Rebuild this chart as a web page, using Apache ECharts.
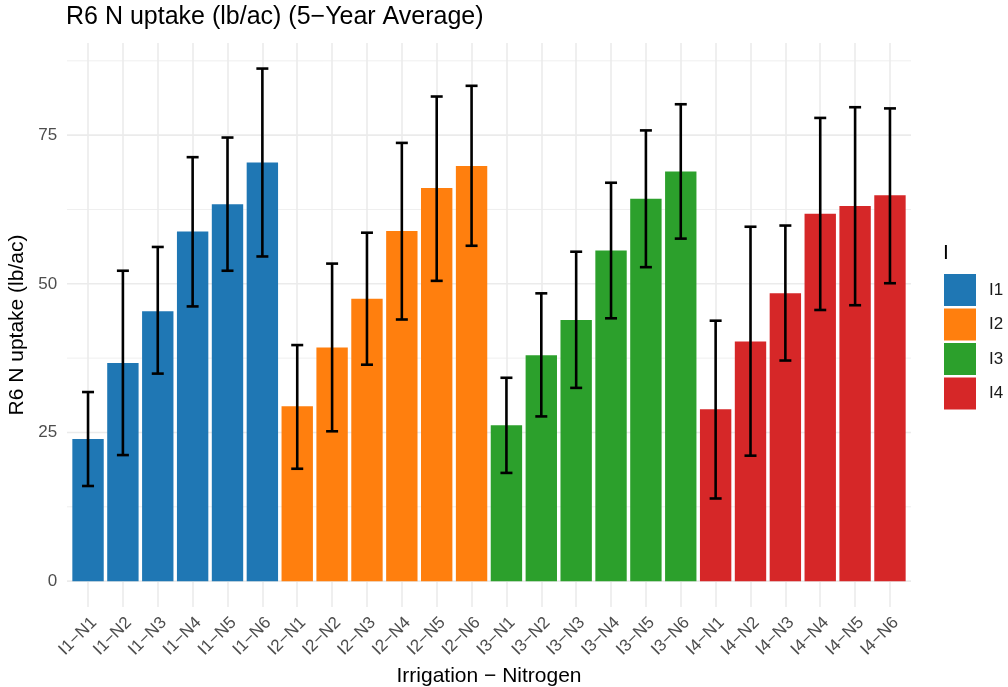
<!DOCTYPE html>
<html>
<head>
<meta charset="utf-8">
<script src="https://cdn.jsdelivr.net/npm/echarts@6/dist/echarts.min.js"></script>
<style>html,body{margin:0;padding:0;background:#fff}#c{width:1008px;height:687px}</style>
</head>
<body>
<div id="c"></div>
<script>
const categories = ['I1−N1','I1−N2','I1−N3','I1−N4','I1−N5','I1−N6',
  'I2−N1','I2−N2','I2−N3','I2−N4','I2−N5','I2−N6',
  'I3−N1','I3−N2','I3−N3','I3−N4','I3−N5','I3−N6',
  'I4−N1','I4−N2','I4−N3','I4−N4','I4−N5','I4−N6'];
const groups = ['I1','I2','I3','I4'];
const groupColors = ['#1F77B4','#FF7F0E','#2CA02C','#D62728'];
const meanI1 = [23.9, 36.7, 45.4, 58.8, 63.4, 70.4];
const meanI2 = [29.4, 39.3, 47.5, 58.9, 66.1, 69.8];
const meanI3 = [26.2, 38.0, 43.9, 55.6, 64.3, 68.9];
const meanI4 = [28.9, 40.3, 48.4, 61.8, 63.1, 64.9];
const lowerAll = [16.0, 21.2, 34.9, 46.2, 52.2, 54.6,
  18.9, 25.2, 36.4, 44.0, 50.5, 56.4,
  18.2, 27.7, 32.5, 44.2, 52.8, 57.6,
  13.9, 21.1, 37.1, 45.6, 46.4, 50.1];
const upperAll = [31.8, 52.2, 56.2, 71.3, 74.6, 86.2,
  39.7, 53.4, 58.6, 73.7, 81.5, 83.3,
  34.2, 48.4, 55.4, 67.0, 75.8, 80.2,
  43.8, 59.6, 59.8, 77.9, 79.7, 79.5];
const yTickValues = [0, 25, 50, 75];
const yMinorValues = [12.5, 37.5, 62.5, 87.5];

const means = [meanI1, meanI2, meanI3, meanI4];
const chart = echarts.init(document.getElementById('c'));
const FONT = '"Liberation Sans", Arial, sans-serif';

const barSeries = groups.map((g, gi) => {
  const data = categories.map((c, ci) => {
    const k = ci - gi * 6;
    return (k >= 0 && k < 6) ? means[gi][k] : '-';
  });
  return {
    name: g, type: 'bar', stack: 'all', data: data, barWidth: '90%', z: 2,
    itemStyle: { color: groupColors[gi] }
  };
});

const vLines = categories.map(c => ({ xAxis: c, lineStyle: { width: 1.6, color: '#EBEBEB', type: 'solid' } }));
const hGridData = yTickValues.map(v => [0, v, 1.6]).concat(yMinorValues.map(v => [0, v, 0.8]));
const errData = categories.map((c, i) => [i, lowerAll[i], upperAll[i]]);

chart.setOption({
  animation: false,
  backgroundColor: '#ffffff',
  textStyle: { fontFamily: FONT },
  title: {
    text: 'R6 N uptake (lb/ac) (5−Year Average)',
    left: 66, top: 5, padding: 0,
    textStyle: { fontFamily: FONT, fontSize: 25, fontWeight: 'normal', color: '#000' }
  },
  legend: {
    data: groups, orient: 'vertical', left: 944, top: 274, padding: 0,
    itemWidth: 32, itemHeight: 32, itemGap: 2.5, icon: 'rect',
    textStyle: { fontFamily: FONT, fontSize: 17, color: '#1a1a1a', padding: [0, 0, 0, 8] }
  },
  graphic: [{
    type: 'text', left: 943, top: 243,
    style: { text: 'I', fontFamily: FONT, fontSize: 21, fill: '#000' }
  }],
  grid: { left: 70.6, right: 100.6, top: 43, bottom: 80, containLabel: false, outerBoundsMode: 'none' },
  xAxis: {
    type: 'category', data: categories,
    name: 'Irrigation − Nitrogen', nameLocation: 'middle', nameGap: 49,
    nameTextStyle: { fontFamily: FONT, fontSize: 21, color: '#000' },
    axisLine: { show: false }, axisTick: { show: false },
    axisLabel: { rotate: 45, align: 'right', verticalAlign: 'top', fontFamily: FONT, fontSize: 17, color: '#4D4D4D', margin: 7, interval: 0 },
    splitLine: { show: false }
  },
  yAxis: {
    type: 'value', min: -4.35, max: 90.5,
    name: 'R6 N uptake (lb/ac)', nameLocation: 'middle', nameGap: 37,
    nameTextStyle: { fontFamily: FONT, fontSize: 21, color: '#000' },
    axisLine: { show: false }, axisTick: { show: false },
    axisLabel: { customValues: yTickValues, fontFamily: FONT, fontSize: 17, color: '#4D4D4D', margin: 13.5 },
    splitLine: { show: false }
  },
  series: [
    {
      type: 'custom', z: 0, silent: true, clip: false, data: hGridData,
      encode: { x: 0, y: 1 },
      renderItem: function (params, api) {
        const cs = params.coordSys;
        const y = api.coord([0, api.value(1)])[1];
        return { type: 'line', shape: { x1: cs.x - 3.6, y1: y, x2: cs.x + cs.width + 3.6, y2: y },
          style: { stroke: '#EBEBEB', lineWidth: api.value(2) } };
      }
    },
    {
      type: 'line', data: categories.map(() => '-'), z: 0, symbol: 'none', silent: true,
      markLine: { silent: true, symbol: ['none', 'none'], label: { show: false }, z: 0, animation: false, data: vLines }
    },
    ...barSeries,
    {
      type: 'custom', z: 5, silent: true, data: errData,
      encode: { x: 0, y: [1, 2] },
      renderItem: function (params, api) {
        const i = api.value(0);
        const lo = api.coord([i, api.value(1)]);
        const hi = api.coord([i, api.value(2)]);
        const hw = 6;
        const st = { stroke: '#000', lineWidth: 2.6 };
        return {
          type: 'group', children: [
            { type: 'line', shape: { x1: lo[0], y1: lo[1], x2: hi[0], y2: hi[1] }, style: st },
            { type: 'line', shape: { x1: hi[0] - hw, y1: hi[1], x2: hi[0] + hw, y2: hi[1] }, style: st },
            { type: 'line', shape: { x1: lo[0] - hw, y1: lo[1], x2: lo[0] + hw, y2: lo[1] }, style: st }
          ]
        };
      }
    }
  ]
});
</script>
</body>
</html>
